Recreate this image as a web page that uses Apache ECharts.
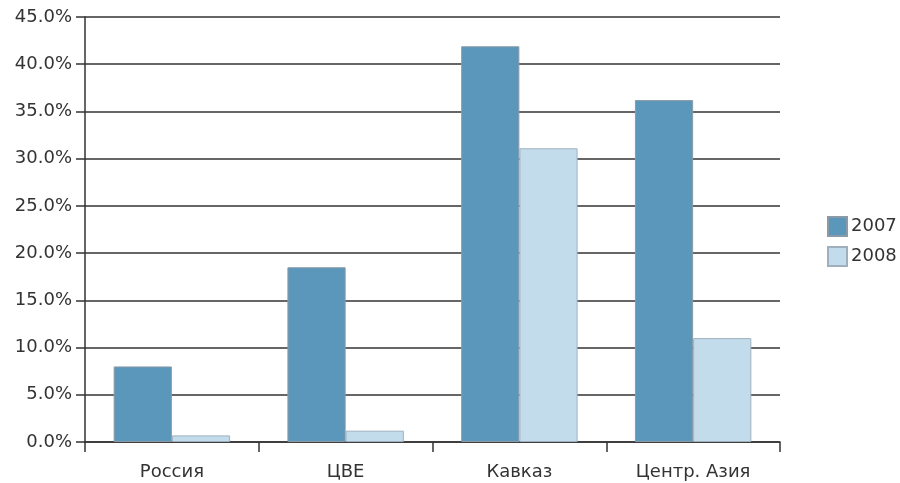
<!DOCTYPE html>
<html>
<head>
<meta charset="utf-8">
<script src="https://cdn.jsdelivr.net/npm/echarts@6/dist/echarts.min.js"></script>
<style>
  html, body { margin: 0; padding: 0; background: #fff; }
  #chart { width: 900px; height: 483px; }
</style>
</head>
<body>
<div id="chart"></div>
<script>
// Regions and shares (%) for each year
const categories = ['Россия', 'ЦВЕ', 'Кавказ', 'Центр. Азия'];
const years = ['2007', '2008'];
const values2007 = [8.0, 18.5, 41.9, 36.2];
const values2008 = [0.7, 1.2, 31.1, 11.0];

const FONT = 'DejaVu Sans';
const colors = ['#5b97bb', '#c3dcec'];

const chart = echarts.init(document.getElementById('chart'));
chart.setOption({
  animation: false,
  backgroundColor: '#ffffff',
  textStyle: { fontFamily: FONT },
  grid: { left: 85, right: 120, top: 17, bottom: 41, containLabel: false },
  legend: {
    orient: 'vertical',
    left: 822,
    top: 211,
    itemWidth: 19,
    itemHeight: 19,
    itemGap: 9,
    icon: 'rect',
    data: years,
    textStyle: { fontFamily: FONT, fontSize: 18, color: '#333', padding: [0, 0, 0, -1] }
  },
  xAxis: {
    type: 'category',
    data: categories,
    axisLine: { lineStyle: { color: '#333', width: 1.5 } },
    axisTick: { show: true, length: 10, alignWithLabel: false, lineStyle: { color: '#333', width: 1.5 } },
    axisLabel: { fontFamily: FONT, fontSize: 18, color: '#333', margin: 21 },
    splitLine: { show: false }
  },
  yAxis: {
    type: 'value',
    min: 0,
    max: 45,
    interval: 5,
    axisLine: { show: true, lineStyle: { color: '#333', width: 1.5 } },
    axisTick: { show: true, length: 9, lineStyle: { color: '#333', width: 1.5 } },
    axisLabel: {
      fontFamily: FONT, fontSize: 18, color: '#333', margin: 13,
      formatter: v => v.toFixed(1) + '%'
    },
    splitLine: { show: true, lineStyle: { color: '#333', width: 1.5 } }
  },
  series: [
    {
      name: years[0],
      type: 'bar',
      data: values2007,
      barGap: '0%',
      barCategoryGap: '33%',
      itemStyle: { color: colors[0], borderColor: '#8a9aa6', borderWidth: 1 }
    },
    {
      name: years[1],
      type: 'bar',
      data: values2008,
      itemStyle: { color: colors[1], borderColor: '#9fb0bc', borderWidth: 1 }
    }
  ]
});
</script>
</body>
</html>
